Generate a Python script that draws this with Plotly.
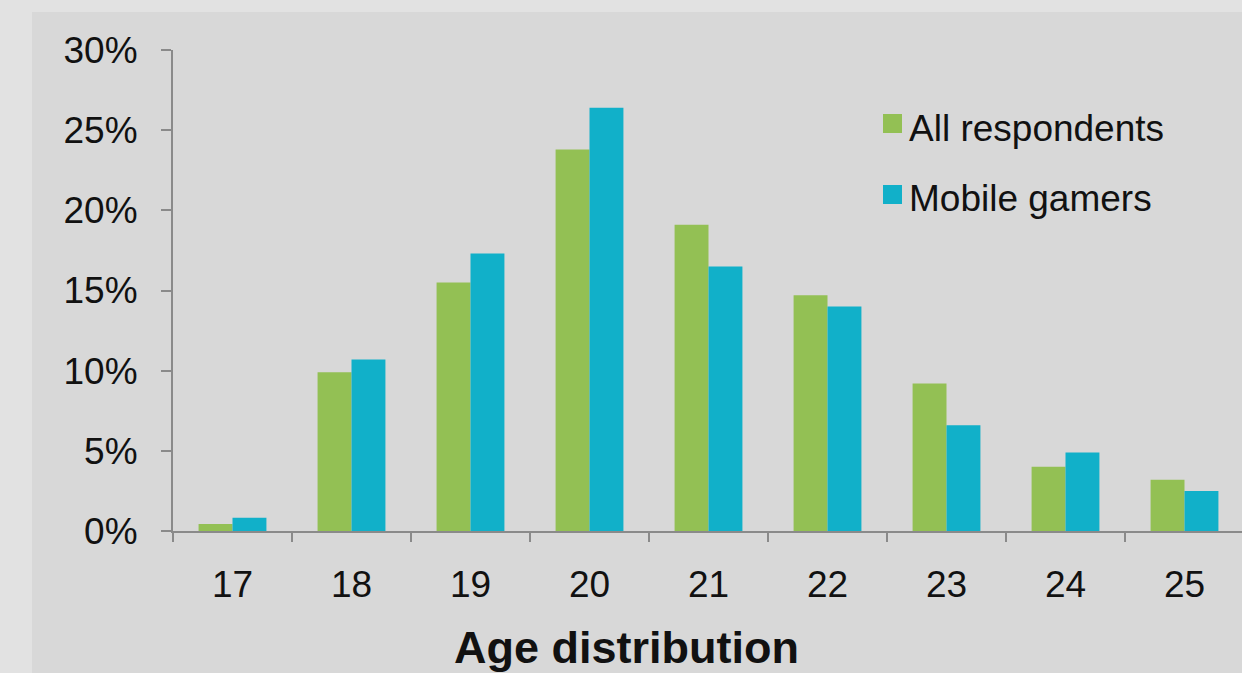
import plotly.graph_objects as go

ages = ["17", "18", "19", "20", "21", "22", "23", "24", "25"]
all_respondents = [0.44, 9.9, 15.5, 23.8, 19.1, 14.7, 9.2, 4.0, 3.2]
mobile_gamers = [0.83, 10.7, 17.3, 26.4, 16.5, 14.0, 6.6, 4.9, 2.5]
series_names = ["All respondents", "Mobile gamers"]
series_colors = ["#93c054", "#11b0c9"]
y_ticks = [0, 5, 10, 15, 20, 25, 30]
y_ticklabels = [f"{v}%" for v in y_ticks]

W, H = 1242, 673
ml, mr, mt, mb = 173, 0, 50, 142
plot_w = W - ml - mr
plot_h = H - mt - mb


def px(xp):
    return (xp - ml) / plot_w


def py(yp):
    return (H - mb - yp) / plot_h


fig = go.Figure()
for name, vals, col in zip(series_names, [all_respondents, mobile_gamers], series_colors):
    fig.add_trace(go.Bar(x=ages, y=vals, name=name,
                         marker=dict(color=col, line=dict(width=0))))

cat_w = 119
x_end = -0.5 + plot_w / cat_w

shapes = [dict(type="rect", xref="paper", yref="paper",
               x0=px(32), x1=px(W + 5), y0=py(H + 5), y1=py(12),
               fillcolor="#d8d8d8", line=dict(width=0), layer="below")]
annotations = []
legend_y = [124, 195]
for name, col, ly in zip(series_names, series_colors, legend_y):
    shapes.append(dict(type="rect", xref="paper", yref="paper",
                       x0=px(883), x1=px(902), y0=py(ly + 9), y1=py(ly - 10),
                       fillcolor=col, line=dict(width=0)))
    annotations.append(dict(text=name, xref="paper", yref="paper",
                            x=px(907), y=py(ly + 4), xanchor="left", yanchor="middle",
                            showarrow=False, font=dict(size=37, color="#111111")))
annotations.append(dict(text="<b>Age distribution</b>", xref="paper", yref="paper",
                        x=px(626), y=py(647), xanchor="center", yanchor="middle",
                        showarrow=False, font=dict(size=45, color="#111111")))

fig.update_layout(
    width=W, height=H,
    margin=dict(l=ml, r=mr, t=mt, b=mb),
    paper_bgcolor="#e2e2e2",
    plot_bgcolor="rgba(0,0,0,0)",
    barmode="group",
    bargap=0.43,
    bargroupgap=0,
    font=dict(family="Liberation Sans, Arial, sans-serif", color="#111111"),
    showlegend=False,
    shapes=shapes,
    annotations=annotations,
)

fig.update_xaxes(
    type="category",
    range=[-0.5, x_end],
    showline=True, linecolor="#8a8a8a", linewidth=2,
    ticks="outside", ticklen=9, tickwidth=2, tickcolor="#8a8a8a",
    tickson="boundaries",
    showgrid=False, zeroline=False,
    tickfont=dict(size=37, color="#111111"),
    ticklabelstandoff=20,
)
fig.update_yaxes(
    range=[0, 30],
    tickvals=y_ticks, ticktext=y_ticklabels,
    showline=True, linecolor="#8a8a8a", linewidth=2,
    ticks="outside", ticklen=10, tickwidth=2, tickcolor="#8a8a8a",
    showgrid=False, zeroline=False,
    tickfont=dict(size=37, color="#111111"),
    ticklabelstandoff=16,
)

fig.write_html("out.html",
               config={"displayModeBar": False},
               post_script="document.body.style.margin='0';document.body.style.background='#e2e2e2';")
